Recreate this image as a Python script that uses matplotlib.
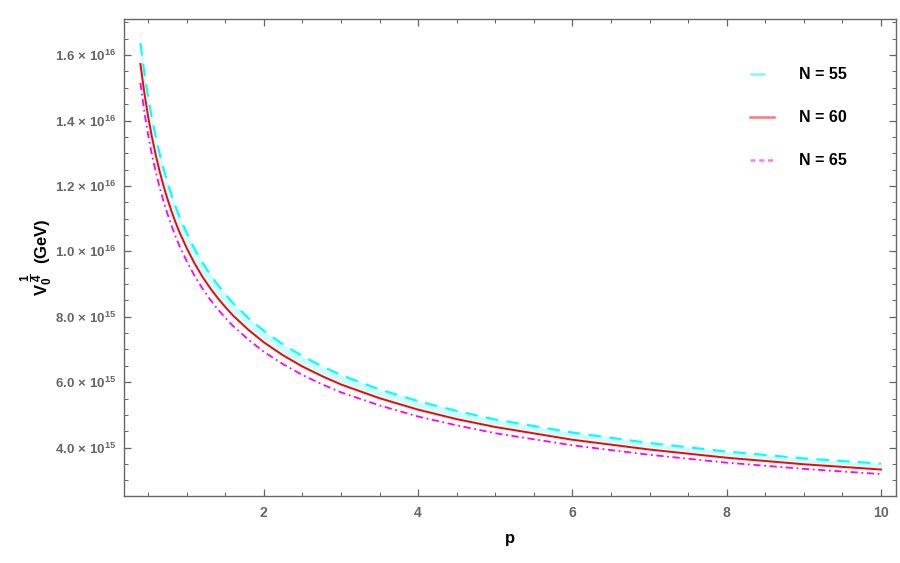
import matplotlib
matplotlib.use("Agg")
import matplotlib.pyplot as plt
from matplotlib.lines import Line2D
from matplotlib.ticker import FuncFormatter, MultipleLocator

plt.rcParams['font.family'] = ['Liberation Sans', 'DejaVu Sans']
plt.rcParams['mathtext.fontset'] = 'custom'
plt.rcParams['mathtext.rm'] = 'Liberation Sans'
plt.rcParams['mathtext.bf'] = 'Liberation Sans:bold'
plt.rcParams['mathtext.it'] = 'Liberation Sans:italic'
plt.rcParams['mathtext.default'] = 'bf'

p = [0.4, 0.45, 0.5, 0.55, 0.6, 0.65, 0.7, 0.75, 0.8, 0.85, 0.9, 1.0, 1.1,
     1.2, 1.3, 1.4, 1.5, 1.6, 1.8, 2.0, 2.25, 2.5, 2.75, 3.0, 3.5, 4.0,
     4.5, 5.0, 6.0, 7.0, 8.0, 9.0, 10.0]

v_n60 = [1.573e16, 1.486e16, 1.412e16, 1.349e16, 1.293e16, 1.244e16, 1.200e16,
         1.161e16, 1.125e16, 1.092e16, 1.062e16, 1.010e16, 9.64e15, 9.24e15,
         8.89e15, 8.58e15, 8.30e15, 8.04e15, 7.60e15, 7.22e15, 6.82e15,
         6.48e15, 6.19e15, 5.93e15, 5.51e15, 5.16e15, 4.87e15, 4.63e15,
         4.24e15, 3.94e15, 3.69e15, 3.49e15, 3.33e15]
v_n55 = [1.637e16, 1.548e16, 1.472e16, 1.407e16, 1.349e16, 1.298e16, 1.253e16,
         1.212e16, 1.175e16, 1.141e16, 1.110e16, 1.056e16, 1.008e16, 9.67e15,
         9.31e15, 8.98e15, 8.69e15, 8.42e15, 7.96e15, 7.57e15, 7.15e15,
         6.80e15, 6.49e15, 6.22e15, 5.78e15, 5.42e15, 5.12e15, 4.86e15,
         4.46e15, 4.14e15, 3.88e15, 3.67e15, 3.51e15]
v_n65 = [1.515e16, 1.428e16, 1.356e16, 1.295e16, 1.242e16, 1.195e16, 1.153e16,
         1.115e16, 1.081e16, 1.049e16, 1.020e16, 0.970e16, 9.26e15, 8.88e15,
         8.54e15, 8.24e15, 7.97e15, 7.72e15, 7.30e15, 6.93e15, 6.55e15,
         6.22e15, 5.94e15, 5.69e15, 5.29e15, 4.95e15, 4.68e15, 4.44e15,
         4.07e15, 3.78e15, 3.54e15, 3.35e15, 3.19e15]

labels = ['N = 55', 'N = 60', 'N = 65']
y_ticks = [4.0e15, 6.0e15, 8.0e15, 1.0e16, 1.2e16, 1.4e16, 1.6e16]
x_ticks = [2, 4, 6, 8, 10]

fig = plt.figure(figsize=(9, 5.63), dpi=100)
ax = fig.add_axes([0.138, 0.119, 0.858, 0.847])

ax.fill_between(p, v_n55, v_n60, color='#ccffff', lw=0, zorder=1)
ax.plot(p, v_n55, color='#00ffff', lw=1.5, ls=(0, (6, 4)), zorder=3)
ax.plot(p, v_n60, color='#ff0000', lw=1.4, zorder=3)
ax.plot(p, v_n65, color='#ff00ff', lw=1.3, ls=(0, (4, 2, 1, 2)), zorder=3)

ax.set_xlim(0.19, 10.2)
ax.set_ylim(2.52e15, 1.71e16)

ax.set_xticks(x_ticks)
ax.xaxis.set_minor_locator(MultipleLocator(0.5))
ax.set_yticks(y_ticks)
ax.yaxis.set_minor_locator(MultipleLocator(0.5e15))


def yfmt(v, pos):
    e = 15
    while v / 10 ** e >= 10:
        e += 1
    m = v / 10 ** e
    return r'$%.1f\,\times\,10^{%d}$' % (m, e)


ax.yaxis.set_major_formatter(FuncFormatter(yfmt))
ax.xaxis.set_major_formatter(FuncFormatter(lambda v, pos: r'$%d$' % v))

frame_col = '#666666'
for s in ax.spines.values():
    s.set_color(frame_col)
    s.set_linewidth(1.0)
ax.tick_params(which='both', direction='in', top=True, right=True,
               color=frame_col, labelcolor='#666666')
ax.tick_params(which='major', length=5, width=0.9)
ax.tick_params(which='minor', length=3, width=0.7)
ax.tick_params(axis='y', pad=6, labelsize=9.5)
ax.tick_params(axis='x', pad=7, labelsize=10)

ax.set_xlabel('p', fontsize=12, fontweight='bold', labelpad=8)
ax.set_ylabel(r'$V_0^{\ \dfrac{1}{4}}$  (GeV)', fontsize=12, fontweight='bold')
ax.yaxis.set_label_coords(-0.089, 0.5)

handles = [
    Line2D([], [], color='#00ffff', lw=1.8, ls=(0, (6, 4)), alpha=0.55),
    Line2D([], [], color='#ff0000', lw=1.8, alpha=0.55),
    Line2D([], [], color='#ff00ff', lw=1.8, ls=(0, (2, 1.5)), alpha=0.55),
]
leg = ax.legend(handles, labels, loc='upper left', bbox_to_anchor=(0.81, 0.899),
                frameon=False, fontsize=11.5, labelspacing=1.75,
                handlelength=1.5, handletextpad=1.6, borderpad=0,
                borderaxespad=0)
for t in leg.get_texts():
    t.set_fontweight('bold')

fig.savefig('out.png', dpi=100)
